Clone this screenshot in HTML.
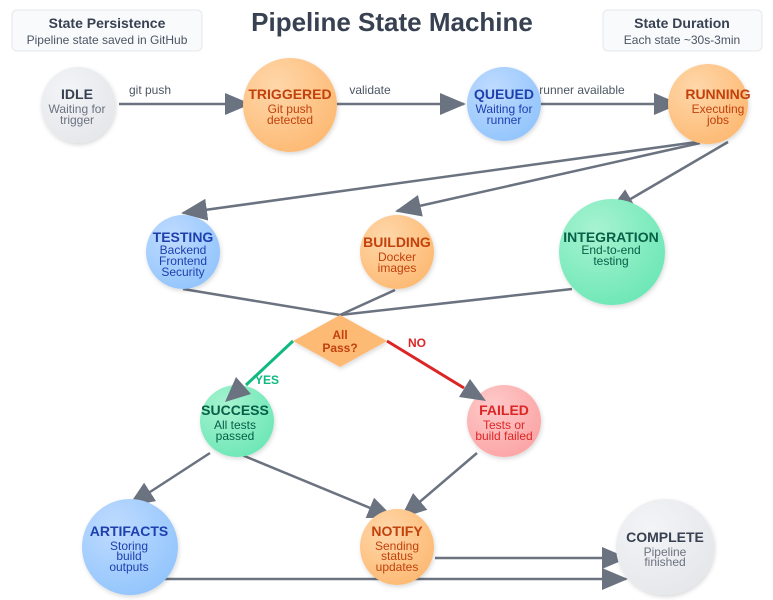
<!DOCTYPE html>
<html><head><meta charset="utf-8"><style>
html,body{margin:0;padding:0;background:#fff;}
svg{display:block;font-family:"Liberation Sans",Arial,sans-serif;}
</style></head><body>
<svg width="773" height="600" viewBox="0 0 773 600" xmlns="http://www.w3.org/2000/svg">
<defs>
<marker id="ahb" markerWidth="26" markerHeight="22" refX="24" refY="11" orient="auto" markerUnits="userSpaceOnUse" viewBox="0 0 26 22"><path d="M0,0 L26,11 L0,22 z" fill="#6b7280"/></marker>
<radialGradient id="gO" cx="35%" cy="30%" r="75%"><stop offset="0" stop-color="#fed7aa"/><stop offset="1" stop-color="#fdba74"/></radialGradient>
<radialGradient id="gB" cx="35%" cy="30%" r="75%"><stop offset="0" stop-color="#bfdbfe"/><stop offset="1" stop-color="#93c5fd"/></radialGradient>
<radialGradient id="gG" cx="35%" cy="30%" r="75%"><stop offset="0" stop-color="#a7f3d0"/><stop offset="1" stop-color="#6ee7b7"/></radialGradient>
<radialGradient id="gR" cx="35%" cy="30%" r="75%"><stop offset="0" stop-color="#fecaca"/><stop offset="1" stop-color="#fca5a5"/></radialGradient>
<radialGradient id="gY" cx="35%" cy="30%" r="75%"><stop offset="0" stop-color="#f3f4f6"/><stop offset="1" stop-color="#e5e7eb"/></radialGradient>
<filter id="sh" x="-20%" y="-20%" width="140%" height="140%"><feDropShadow dx="1" dy="2" stdDeviation="2" flood-opacity="0.15"/></filter>
</defs>

<rect x="12" y="10" width="190" height="41" rx="5" fill="#f8fafc" stroke="#e5e7eb"/>
<text x="107" y="28" text-anchor="middle" font-size="14" font-weight="bold" fill="#374151">State Persistence</text>
<text x="107" y="44" text-anchor="middle" font-size="12" fill="#4b5563">Pipeline state saved in GitHub</text>
<rect x="603" y="10" width="159" height="41" rx="5" fill="#f8fafc" stroke="#e5e7eb"/>
<text x="682" y="28" text-anchor="middle" font-size="14" font-weight="bold" fill="#374151">State Duration</text>
<text x="682" y="44" text-anchor="middle" font-size="12" fill="#4b5563">Each state ~30s-3min</text>
<text x="392" y="31" text-anchor="middle" font-size="26" font-weight="bold" fill="#374151">Pipeline State Machine</text>

<g stroke="#6b7280" stroke-width="2.5" fill="none">
<line x1="119" y1="104" x2="249" y2="104" marker-end="url(#ahb)"/>
<line x1="336" y1="104" x2="464" y2="104" marker-end="url(#ahb)"/>
<line x1="540" y1="104" x2="678" y2="104" marker-end="url(#ahb)"/>
<line x1="697" y1="142" x2="183" y2="213" marker-end="url(#ahb)"/>
<line x1="700" y1="143" x2="397" y2="211" marker-end="url(#ahb)"/>
<line x1="728" y1="142" x2="610" y2="211" marker-end="url(#ahb)"/>
<line x1="183" y1="289" x2="340" y2="315"/>
<line x1="395" y1="290" x2="340" y2="315"/>
<line x1="572" y1="289" x2="340" y2="315"/>
<line x1="210" y1="453" x2="130" y2="505" marker-end="url(#ahb)"/>
<line x1="237" y1="453" x2="392" y2="517" marker-end="url(#ahb)"/>
<line x1="477" y1="453" x2="402" y2="517" marker-end="url(#ahb)"/>
<line x1="435" y1="558" x2="626" y2="558" marker-end="url(#ahb)"/>
<line x1="163" y1="579" x2="626" y2="579" marker-end="url(#ahb)"/>
</g>
<line x1="293" y1="341" x2="246" y2="385" stroke="#10b981" stroke-width="3"/>
<line x1="387" y1="341" x2="464" y2="388" stroke="#dc2626" stroke-width="3"/>

<g font-size="12" fill="#4b5563" text-anchor="middle">
<text x="150" y="94">git push</text>
<text x="370" y="94">validate</text>
<text x="582" y="94">runner available</text>
</g>
<text x="255" y="384" font-size="12" font-weight="bold" fill="#10b981">YES</text>
<text x="408" y="347" font-size="12" font-weight="bold" fill="#dc2626">NO</text>

<g filter="url(#sh)">
<ellipse cx="78" cy="105" rx="37" ry="38" fill="url(#gY)"/>
<ellipse cx="290" cy="105" rx="47" ry="47" fill="url(#gO)"/>
<ellipse cx="504" cy="104" rx="37" ry="37" fill="url(#gB)"/>
<ellipse cx="708" cy="104" rx="40" ry="40" fill="url(#gO)"/>
<ellipse cx="183" cy="252" rx="37" ry="37" fill="url(#gB)"/>
<ellipse cx="397" cy="252" rx="37" ry="37" fill="url(#gO)"/>
<ellipse cx="612" cy="252" rx="53" ry="53" fill="url(#gG)"/>
<polygon points="340,315 387,341 340,367 293,341" fill="#fdba74"/>
<ellipse cx="237" cy="421" rx="37" ry="36" fill="url(#gG)"/>
<ellipse cx="504" cy="421" rx="37" ry="36" fill="url(#gR)"/>
<ellipse cx="130" cy="547" rx="48" ry="48" fill="url(#gB)"/>
<ellipse cx="397" cy="547" rx="37" ry="38" fill="url(#gO)"/>
<ellipse cx="665" cy="547" rx="49" ry="48" fill="url(#gY)"/>
</g>
<polygon points="225,402 251,394 236,377" fill="#6b7280"/>
<polygon points="486,401 459,397 470,379" fill="#6b7280"/>

<g text-anchor="middle">
<text x="77" y="99" font-size="14" font-weight="bold" fill="#374151">IDLE</text>
<text x="77" y="113" font-size="12" fill="#6b7280">Waiting for</text>
<text x="77" y="124" font-size="12" fill="#6b7280">trigger</text>

<text x="290" y="99" font-size="14" font-weight="bold" fill="#c2410c">TRIGGERED</text>
<text x="290" y="113" font-size="12" fill="#c2410c">Git push</text>
<text x="290" y="124" font-size="12" fill="#c2410c">detected</text>

<text x="504" y="99" font-size="14" font-weight="bold" fill="#1e40af">QUEUED</text>
<text x="504" y="113" font-size="12" fill="#1e40af">Waiting for</text>
<text x="504" y="124" font-size="12" fill="#1e40af">runner</text>

<text x="718" y="99" font-size="14" font-weight="bold" fill="#c2410c">RUNNING</text>
<text x="718" y="113" font-size="12" fill="#c2410c">Executing</text>
<text x="718" y="124" font-size="12" fill="#c2410c">jobs</text>

<text x="183" y="242" font-size="14" font-weight="bold" fill="#1e40af">TESTING</text>
<text x="183" y="254" font-size="12" fill="#1e40af">Backend</text>
<text x="183" y="265" font-size="12" fill="#1e40af">Frontend</text>
<text x="183" y="276" font-size="12" fill="#1e40af">Security</text>

<text x="397" y="247" font-size="14" font-weight="bold" fill="#c2410c">BUILDING</text>
<text x="397" y="261" font-size="12" fill="#c2410c">Docker</text>
<text x="397" y="272" font-size="12" fill="#c2410c">images</text>

<text x="611" y="242" font-size="14" font-weight="bold" fill="#065f46">INTEGRATION</text>
<text x="611" y="254" font-size="12" fill="#065f46">End-to-end</text>
<text x="611" y="265" font-size="12" fill="#065f46">testing</text>

<text x="340" y="339" font-size="12" font-weight="bold" fill="#c2410c">All</text>
<text x="340" y="352" font-size="12" font-weight="bold" fill="#c2410c">Pass?</text>

<text x="235" y="415" font-size="14" font-weight="bold" fill="#065f46">SUCCESS</text>
<text x="235" y="429" font-size="12" fill="#065f46">All tests</text>
<text x="235" y="440" font-size="12" fill="#065f46">passed</text>

<text x="504" y="415" font-size="14" font-weight="bold" fill="#dc2626">FAILED</text>
<text x="504" y="429" font-size="12" fill="#dc2626">Tests or</text>
<text x="504" y="440" font-size="12" fill="#dc2626">build failed</text>

<text x="129" y="536" font-size="14" font-weight="bold" fill="#1e40af">ARTIFACTS</text>
<text x="129" y="550" font-size="12" fill="#1e40af">Storing</text>
<text x="129" y="560" font-size="12" fill="#1e40af">build</text>
<text x="129" y="571" font-size="12" fill="#1e40af">outputs</text>

<text x="397" y="536" font-size="14" font-weight="bold" fill="#c2410c">NOTIFY</text>
<text x="397" y="550" font-size="12" fill="#c2410c">Sending</text>
<text x="397" y="560" font-size="12" fill="#c2410c">status</text>
<text x="397" y="571" font-size="12" fill="#c2410c">updates</text>

<text x="665" y="542" font-size="14" font-weight="bold" fill="#374151">COMPLETE</text>
<text x="665" y="556" font-size="12" fill="#6b7280">Pipeline</text>
<text x="665" y="566" font-size="12" fill="#6b7280">finished</text>
</g>
</svg>
</body></html>
